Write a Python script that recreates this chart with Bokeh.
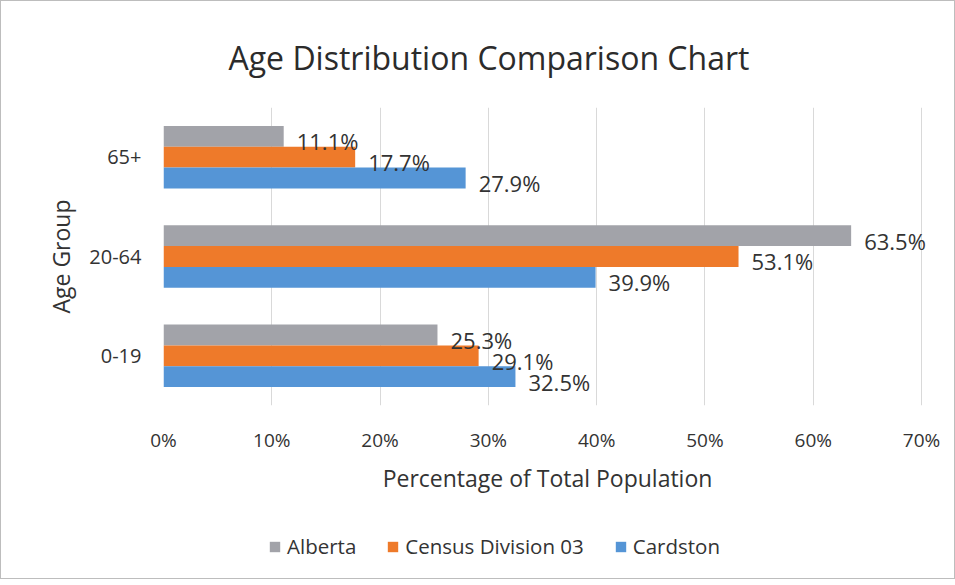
from bokeh.plotting import figure
from bokeh.layouts import column
from bokeh.models import (ColumnDataSource, FactorRange, Range1d, Legend, LegendItem,
                          PrintfTickFormatter, FixedTicker)
from bokeh.transform import dodge
from bokeh.core.properties import value
from bokeh.embed import file_html
from bokeh.resources import INLINE

# ---- data ----
age_groups = ["0-19", "20-64", "65+"]
alberta = [25.3, 63.5, 11.1]
census_div_03 = [29.1, 53.1, 17.7]
cardston = [32.5, 39.9, 27.9]
series_names = ["Alberta", "Census Division 03", "Cardston"]
x_ticks = [0, 10, 20, 30, 40, 50, 60, 70]

FONT = "Open Sans"
colors = ["#A2A3A9", "#EE7A2A", "#5595D6"]
TXT = "#333333"

src = ColumnDataSource(dict(
    cat=age_groups,
    a=alberta, c=census_div_03, d=cardston,
    al=[f"{v:.1f}%" for v in alberta],
    cl=[f"{v:.1f}%" for v in census_div_03],
    dl=[f"{v:.1f}%" for v in cardston],
))

W, H1, H2 = 953, 508, 69
# frame runs slightly past the 70% line so the outside data labels are not clipped
p = figure(width=W, height=H1, output_backend="svg", toolbar_location=None,
           y_range=FactorRange(*age_groups, range_padding=0),
           x_range=Range1d(0, 70.92),
           min_border_left=162, min_border_right=W - 930,
           min_border_top=106, min_border_bottom=H1 - 404)

p.title.text = "Age Distribution Comparison Chart"
p.title.text_font = FONT
p.title.text_font_size = "32px"
p.title.text_font_style = "normal"
p.title.text_color = "#2b2b2b"
p.title.align = "left"
p.title.offset = 65
p.title.standoff = 57

bh = 0.21
offs = [bh, 0.0, -bh]
fields = ["a", "c", "d"]
lfields = ["al", "cl", "dl"]
for f, o, col in zip(fields, offs, colors):
    p.hbar(y=dodge("cat", o, range=p.y_range), right=f, left=0, height=bh,
           source=src, fill_color=col, line_color=None)
for f, lf, o in zip(fields, lfields, offs):
    p.text(x=f, y=dodge("cat", o - 0.05, range=p.y_range), text=lf, source=src,
           x_offset=13, text_baseline="middle", text_align="left",
           text_font=value(FONT), text_font_size="22px", text_color=TXT)

# axes
p.xaxis.ticker = FixedTicker(ticks=x_ticks)
p.xaxis.formatter = PrintfTickFormatter(format="%d%%")
p.xaxis.axis_line_color = None
p.xaxis.major_tick_line_color = None
p.xaxis.minor_tick_line_color = None
p.xaxis.major_label_text_font = FONT
p.xaxis.major_label_text_font_size = "19px"
p.xaxis.major_label_text_color = TXT
p.xaxis.major_label_standoff = 15
p.xaxis.axis_label = "Percentage of Total Population"
p.xaxis.axis_label_text_font = FONT
p.xaxis.axis_label_text_font_size = "23px"
p.xaxis.axis_label_text_font_style = "normal"
p.xaxis.axis_label_text_color = TXT
p.xaxis.axis_label_standoff = 6

p.yaxis.axis_line_color = None
p.yaxis.major_tick_line_color = None
p.yaxis.minor_tick_line_color = None
p.yaxis.major_label_text_font = FONT
p.yaxis.major_label_text_font_size = "20px"
p.yaxis.major_label_text_color = TXT
p.yaxis.major_label_standoff = 16
p.yaxis.axis_label = "Age Group"
p.yaxis.axis_label_text_font = FONT
p.yaxis.axis_label_text_font_size = "23px"
p.yaxis.axis_label_text_font_style = "normal"
p.yaxis.axis_label_text_color = TXT
p.yaxis.axis_label_standoff = 9

p.xgrid.grid_line_color = "#D9D9D9"
p.ygrid.grid_line_color = None
p.outline_line_color = None

# legend strip (separate figure so the legend is not clipped by the chart frame)
q = figure(width=W, height=H2, output_backend="svg", toolbar_location=None,
           x_range=Range1d(0, 1), y_range=Range1d(0, 1),
           x_axis_type=None, y_axis_type=None,
           min_border_left=0, min_border_right=0, min_border_top=0, min_border_bottom=0)
q.outline_line_color = None
q.grid.visible = False
offscreen = ColumnDataSource(dict(l=[-3], r=[-2], b=[-3], t=[-2]))
leg_r = [q.quad(left="l", right="r", bottom="b", top="t", source=offscreen,
                fill_color=c, line_color=None) for c in colors]
legend = Legend(items=[LegendItem(label=n, renderers=[r]) for n, r in zip(series_names, leg_r)],
                orientation="horizontal", location=(105, 18),
                label_text_font=FONT, label_text_font_size="20.5px",
                label_text_color=TXT, glyph_width=13, glyph_height=13,
                spacing=30, label_standoff=6, border_line_color=None,
                background_fill_alpha=0, margin=0, padding=0)
q.add_layout(legend, "center")

layout = column(p, q, spacing=0)
layout.styles = {"border": "1px solid #bdbdbd"}

open("out.html", "w").write(file_html(layout, INLINE))
